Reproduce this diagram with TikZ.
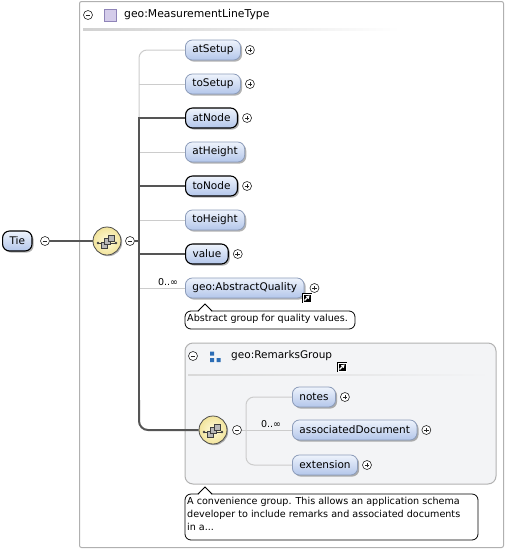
\documentclass[tikz,border=0pt]{standalone}
\usepackage{fontspec}
\setmainfont{DejaVu Sans}
\usetikzlibrary{shadows,arrows.meta}
\definecolor{nodetop}{HTML}{EEF3FC}
\definecolor{nodebot}{HTML}{B3C6EA}
\definecolor{optborder}{HTML}{8C9CBA}
\definecolor{lightline}{HTML}{CCCCCC}
\definecolor{boldline}{HTML}{555555}
\definecolor{framegray}{HTML}{B0B0B0}
\definecolor{groupbg}{HTML}{F3F4F6}
\definecolor{seqin}{HTML}{FFFBDA}
\definecolor{seqout}{HTML}{F2E49C}
\definecolor{grpblue}{HTML}{2C6DB5}
\definecolor{lavfill}{HTML}{D4CCEA}
\definecolor{lavdraw}{HTML}{8F84B8}
\tikzset{
  elem/.style={rounded corners=7pt, minimum height=20pt, inner xsep=7pt, inner ysep=0pt,
    anchor=west, top color=nodetop, bottom color=nodebot, draw=optborder, line width=0.8pt,
    drop shadow={shadow xshift=1.6pt, shadow yshift=-1.6pt, opacity=.3, fill=black},
    font=\fontsize{10.5}{12}\selectfont},
  reqelem/.style={elem, draw=black, line width=1.1pt},
  pmc/.style={circle, draw=black!85, line width=.6pt, fill=white, minimum size=9pt, inner sep=0pt},
  pluscirc/.style={pmc, path picture={
     \draw[line width=.6pt] ([xshift=-2.3pt]path picture bounding box.center) -- ([xshift=2.3pt]path picture bounding box.center)
       ([yshift=-2.3pt]path picture bounding box.center) -- ([yshift=2.3pt]path picture bounding box.center);}},
  minuscirc/.style={pmc, path picture={
     \draw[line width=.6pt] ([xshift=-2.3pt]path picture bounding box.center) -- ([xshift=2.3pt]path picture bounding box.center);}},
  seqc/.style={circle, draw=black!70, line width=.8pt, inner color=seqin, outer color=seqout,
    minimum size=28pt, inner sep=0pt,
    drop shadow={shadow xshift=1.2pt, shadow yshift=-1.2pt, opacity=.3, fill=black}},
  light/.style={draw=lightline, line width=1pt},
  bold/.style={draw=boldline, line width=2pt},
  callout/.style={draw=black, line width=.8pt, fill=white, rounded corners=6pt},
  ctext/.style={font=\fontsize{9.6}{13.3}\selectfont, anchor=north west, inner sep=0pt, align=left},
  occ/.style={font=\fontsize{9.5}{11}\selectfont, inner sep=0pt},
  seqicon/.pic={
    \draw[black!75, line width=.7pt] (-9,2) -- (9,2);
    \fill[black!75] (-9,2) circle (1.3) (9,2) circle (1.3);
    \draw[black!75, fill=gray!55, line width=.6pt] (-6,1) rectangle (0,7);
    \draw[black!75, fill=gray!55, line width=.6pt] (-2.5,-2.5) rectangle (3.5,3.5);
    \draw[black!75, fill=gray!55, line width=.6pt] (1,-6) rectangle (7,0);
  },
  linkicon/.pic={
    \fill[black] (0,0) rectangle (10,10);
    \draw[white, line width=.6pt] (1,1) rectangle (9,9);
    \draw[white, line width=1.1pt, -{Triangle[length=3.2pt,width=3.6pt]}] (2.6,7.4) -- (7.6,2.4);
  }
}
\begin{document}
\begin{tikzpicture}[x=1pt,y=-1pt]
\useasboundingbox (0,0) rectangle (506,550);
% outer frame
\draw[framegray, line width=1pt, fill=white, rounded corners=2pt] (79.5,1.5) rectangle (503.5,547.5);
% header
\node[minuscirc] (hm) at (88,15) {};
\draw[fill=lavfill, draw=lavdraw, line width=.6pt] (104,9) rectangle (116,21);
\node[anchor=west, inner sep=0pt, font=\fontsize{10.8}{12}\selectfont] (htitle) at (124,15) {geo:MeasurementLineType};
\shade[left color=black!18, right color=white] (83,28.5) rectangle (400,30);

% Tie and compositor
\node[reqelem] (tie) at (2,241) {Tie};
\node[minuscirc] (tiem) at (45,241) {};
\node[seqc] (seq1) at (107,241) {};
\pic at (seq1.center) {seqicon};
\node[minuscirc] (seq1m) at (130,241) {};
\draw[draw=boldline, line width=1.3pt] (tiem) -- (seq1);
\draw[draw=boldline, line width=1.2pt] (seq1m) -- (139,241);

% children
\node[elem] (atSetup) at (185,50) {atSetup};
\node[elem] (toSetup) at (185,84) {toSetup};
\node[reqelem] (atNode) at (185,118) {atNode};
\node[elem] (atHeight) at (185,152) {atHeight};
\node[reqelem] (toNode) at (185,186) {toNode};
\node[elem] (toHeight) at (185,220) {toHeight};
\node[reqelem] (value) at (185,254) {value};
\node[elem] (absq) at (185,288) {geo:AbstractQuality};
\node[pluscirc] (p1) at ([xshift=9pt]atSetup.east) {};
\node[pluscirc] (p2) at ([xshift=9pt]toSetup.east) {};
\node[pluscirc] (p3) at ([xshift=9pt]atNode.east) {};
\node[pluscirc] (p4) at ([xshift=9pt]toNode.east) {};
\node[pluscirc] (p5) at ([xshift=9pt]value.east) {};
\node[pluscirc] (p6) at ([xshift=10pt]absq.east) {};
\pic at (302,293) {linkicon};
\node[occ] (occ1) at (168,282) {0..∞};

% connectors
\draw[light, rounded corners=8pt] (atSetup.west) -- (139,50) -- (139,118);
\draw[light] (toSetup.west) -- (139,84);
\draw[light] (atHeight.west) -- (139,152);
\draw[light] (toHeight.west) -- (139,220);
\draw[light] (absq.west) -- (139,288);
\draw[bold] (atNode.west) -- (139,118) -- (139,415);
\draw[bold] (toNode.west) -- (139,186);
\draw[bold] (value.west) -- (139,254);

% callout 1
\draw[callout] (185,311) rectangle (355,329);
\fill[white] (198.5,311.8) -- (205,304) -- (211.5,311.8) -- cycle;
\draw[black, line width=.8pt] (198,311) -- (205,304) -- (212,311);
\node[ctext] (c1) at (187,313.5) {Abstract group for quality values.};

% remarks group
\draw[draw=black!30, line width=1pt, fill=groupbg, rounded corners=8pt] (185,343) rectangle (496,484);
\node[minuscirc] (gm) at (193,356) {};
\fill[grpblue] (210,351.5) rectangle (214,355.5) (210,358) rectangle (214,362) (216.5,358) rectangle (220.5,362);
\node[anchor=west, inner sep=0pt, font=\fontsize{10.5}{12}\selectfont] (gtitle) at (231,356) {geo:RemarksGroup};
\pic at (337,362) {linkicon};
\shade[left color=black!15, right color=groupbg] (188,374) rectangle (490,375.5);

\node[seqc] (seq2) at (213,430) {};
\pic at (seq2.center) {seqicon};
\node[minuscirc] (seq2m) at (237,430) {};
\draw[bold, rounded corners=9pt] (139,400) -- (139,430) -- (seq2.west);

\node[elem] (notes) at (292,397) {notes};
\node[elem] (assoc) at (292,430) {associatedDocument};
\node[elem] (ext) at (292,465) {extension};
\node[pluscirc] (q1) at ([xshift=9pt]notes.east) {};
\node[pluscirc] (q2) at ([xshift=9pt]assoc.east) {};
\node[pluscirc] (q3) at ([xshift=9pt]ext.east) {};
\node[occ] (occ2) at (271,424) {0..∞};
\draw[light, rounded corners=8pt] (notes.west) -- (246,397) -- (246,465) -- (ext.west);
\draw[light] (seq2m) -- (assoc.west);

% callout 2
\draw[callout] (185,494) rectangle (478,540);
\fill[white] (198.5,494.8) -- (205,487) -- (211.5,494.8) -- cycle;
\draw[black, line width=.8pt] (198,494) -- (205,487) -- (212,494);
\node[ctext] (c2) at (187,496.5) {A convenience group. This allows an application schema\\developer to include remarks and associated documents\\in a...};
\end{tikzpicture}
\end{document}
